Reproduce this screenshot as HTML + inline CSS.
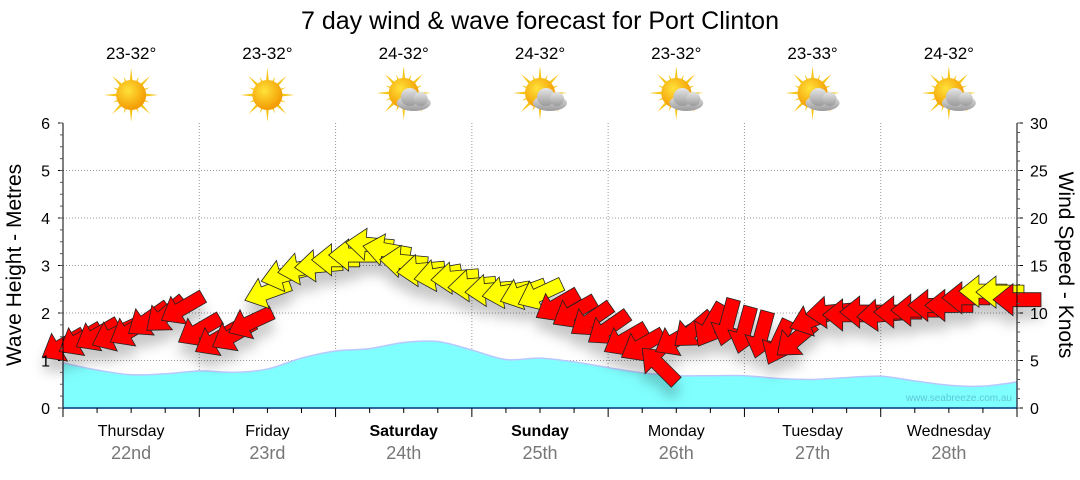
<!DOCTYPE html>
<html><head><meta charset="utf-8"><style>
body{margin:0;background:#fff;}
svg text{font-family:"Liberation Sans","DejaVu Sans",sans-serif;}
</style></head><body>
<svg id="chart" width="1080" height="475" viewBox="0 0 1080 475" xmlns="http://www.w3.org/2000/svg">
<defs>
<filter id="sh" x="-20%" y="-20%" width="140%" height="160%"><feDropShadow dx="0" dy="12" stdDeviation="6" flood-color="#000" flood-opacity="0.22"/></filter>
<radialGradient id="sunG" cx="40%" cy="35%" r="65%"><stop offset="0" stop-color="#ffe23a"/><stop offset="1" stop-color="#f39a00"/></radialGradient>
<linearGradient id="cloudG" x1="0" y1="0" x2="0" y2="1"><stop offset="0" stop-color="#e6e6e6"/><stop offset="1" stop-color="#9a9a9a"/></linearGradient>
</defs>
<text x="540" y="29" font-size="25" text-anchor="middle" fill="#000">7 day wind &amp; wave forecast for Port Clinton</text>
<g id="grid"></g>
<g id="wave"></g>
<g id="arrows" filter="url(#sh)"></g>
<g id="axes"></g>
<g id="topIcons"></g>
<text x="1012" y="401" font-size="10" text-anchor="end" fill="#5cc8d8">www.seabreeze.com.au</text>
<text transform="translate(21,265) rotate(-90)" font-size="21" text-anchor="middle">Wave Height - Metres</text>
<text transform="translate(1059,265) rotate(90)" font-size="21" text-anchor="middle">Wind Speed - Knots</text>
</svg>
<script>
const days=["Thursday","Friday","Saturday","Sunday","Monday","Tuesday","Wednesday"];
const dates=["22nd","23rd","24th","25th","26th","27th","28th"];
const temps=["23-32°","23-32°","24-32°","24-32°","23-32°","23-33°","24-32°"];
const icons=["sun","sun","cloud","cloud","cloud","cloud","cloud"];
const leftTicks=[0,1,2,3,4,5,6];
const rightTicks=[0,5,10,15,20,25,30];
// wave height (m), every 6 hours
const waveHeight=[0.95,0.8,0.7,0.72,0.78,0.75,0.82,1.05,1.2,1.25,1.38,1.4,1.22,1.02,1.05,0.97,0.85,0.74,0.68,0.68,0.68,0.62,0.6,0.64,0.67,0.57,0.48,0.46,0.55];
// wind speed (knots), every 3 hours
const windSpeed=[6.6,7.2,7.7,7.7,8.2,9.3,9.8,10.5,8.2,
7.2,7.7,9,12.2,14,14.7,15,15.6,
16.1,17.2,16.6,15.4,14.5,14,13.7,12.9,
12.4,12.2,12.1,12.0,10.8,10.1,9.3,8.4,
7.2,6.6,4.5,7.2,8.2,8.7,9,8.2,
7.7,6.9,7.2,9.3,10.1,9.8,10.1,9.8,
10.1,10.3,10.8,10.8,11.6,12.3,12.2,11.4];
// wind arrow heading (screen degrees, 180 = pointing left)
const windDir=[150,150,150,155,150,145,140,150,150,
150,150,155,160,165,170,175,180,
180,185,190,185,175,170,175,175,
175,170,160,155,150,150,145,145,
150,150,225,150,140,120,105,105,
105,115,140,160,175,180,180,175,
180,180,180,180,180,180,180,180];
const X0=63,X1=1017,YB=408,YT=123;
const hoursTotal=168;
const xH=h=>X0+(X1-X0)*h/hoursTotal;
const yM=m=>YB-(YB-YT)*m/6;
const yK=k=>YB-(YB-YT)*k/30;
const NS="http://www.w3.org/2000/svg";
function mk(tag,attrs,parent){const e=document.createElementNS(NS,tag);for(const k in attrs)e.setAttribute(k,attrs[k]);parent.appendChild(e);return e;}
const gridG=document.getElementById('grid'),axesG=document.getElementById('axes'),topG=document.getElementById('topIcons'),waveG=document.getElementById('wave'),arrG=document.getElementById('arrows');
leftTicks.forEach(v=>{if(v>0&&v<6){const l=mk('line',{x1:X0,x2:X1,y1:yM(v),y2:yM(v),stroke:'#999','stroke-dasharray':'1,2'},gridG);

}});
for(let d=1;d<7;d++){const x=xH(d*24);const l=mk('line',{x1:x,x2:x,y1:YT,y2:YB,stroke:'#999','stroke-dasharray':'1,2'},gridG);

}
{let pts=waveHeight.map((v,i)=>[xH(i*6),yM(v)]);
let d=`M${pts[0][0]},${YB} L${pts[0][0]},${pts[0][1]}`;
for(let i=0;i<pts.length-1;i++){const p0=pts[Math.max(0,i-1)],p1=pts[i],p2=pts[i+1],p3=pts[Math.min(pts.length-1,i+2)];
d+=` C${p1[0]+(p2[0]-p0[0])/6},${p1[1]+(p2[1]-p0[1])/6} ${p2[0]-(p3[0]-p1[0])/6},${p2[1]-(p3[1]-p1[1])/6} ${p2[0]},${p2[1]}`;}
d+=` L${X1},${YB} Z`;
const a=mk('path',{d:d,fill:'#80ffff',stroke:'#b8c8ff','stroke-width':1.5},waveG);

}
windSpeed.forEach((k,i)=>{const x=xH(i*3),y=yK(k);
const col=k>=11.9?'#ffff00':'#ff0000';
const p=mk('path',{d:'M-24,-7 L4,-7 L4,-16 L24,0 L4,16 L4,7 L-24,7 Z',fill:col,stroke:'#222','stroke-width':0.8,transform:`translate(${x},${y}) rotate(${windDir[i]})`},arrG);

});
mk('line',{x1:X0,x2:X0,y1:YT,y2:YB,stroke:'#000'},axesG);
mk('line',{x1:X1,x2:X1,y1:YT,y2:YB,stroke:'#000'},axesG);
mk('line',{x1:X0,x2:X1,y1:YB,y2:YB,stroke:'#004080','stroke-width':1.5},axesG);
leftTicks.forEach(v=>{const t=mk('text',{x:50,y:yM(v)+6,'font-size':16,'text-anchor':'end'},axesG);t.textContent=v;


mk('line',{x1:X0-5,x2:X0,y1:yM(v),y2:yM(v),stroke:'#000'},axesG);});
for(let m=0;m<=6;m+=0.25){mk('line',{x1:X0-3,x2:X0,y1:yM(m),y2:yM(m),stroke:'#555'},axesG);}
rightTicks.forEach(v=>{const t=mk('text',{x:1030,y:yK(v)+6,'font-size':16},axesG);t.textContent=v;


mk('line',{x1:X1,x2:X1+6,y1:yK(v),y2:yK(v),stroke:'#000'},axesG);});
for(let k=0;k<=30;k++){mk('line',{x1:X1,x2:X1+3,y1:yK(k),y2:yK(k),stroke:'#555'},axesG);}
for(let h=0;h<=168;h+=6){const big=h%24==0;mk('line',{x1:xH(h),x2:xH(h),y1:YB,y2:YB+(big?9:5),stroke:'#000'},axesG);}
days.forEach((d,i)=>{const cx=xH(i*24+12);const bold=(i==2||i==3);
const t=mk('text',{x:cx,y:436,'font-size':16,'text-anchor':'middle','font-weight':bold?'bold':'normal'},axesG);t.textContent=d;


const t2=mk('text',{x:cx,y:459,'font-size':18,'text-anchor':'middle',fill:'#777'},axesG);t2.textContent=dates[i];


const t3=mk('text',{x:cx,y:59,'font-size':17,'text-anchor':'middle'},topG);t3.textContent=temps[i];


const g=mk('g',{transform:`translate(${cx},${icons[i]=='sun'?95:93})`},topG);


for(let r=0;r<16;r++){const len=r%2?20:27;mk('polygon',{points:`-3,0 3,0 0,${-len}`,fill:'#f5c518',transform:`rotate(${r*22.5})`},g);}
mk('circle',{r:15,fill:'url(#sunG)'},g);
if(icons[i]=='cloud'){const c=mk('g',{transform:'translate(10,6)'},g);
mk('ellipse',{cx:0,cy:4,rx:17,ry:8,fill:'url(#cloudG)'},c);
mk('circle',{cx:-4,cy:-2,r:9,fill:'url(#cloudG)'},c);
mk('circle',{cx:7,cy:0,r:7,fill:'url(#cloudG)'},c);}
});
</script>
</body></html>
